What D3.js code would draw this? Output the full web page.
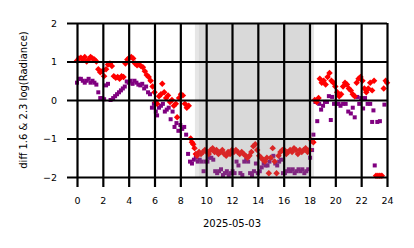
<!DOCTYPE html>
<html>
<head>
<meta charset="utf-8">
<script src="https://cdn.jsdelivr.net/npm/d3@7"></script>
<style>
body { margin: 0; background: #fff; }
svg text { font-family: "DejaVu Sans", sans-serif; fill: #000; }
</style>
</head>
<body>
<div id="chart"></div>
<script>
// diff 1.6 (red) hours and values
var redHours = [0.0,0.15,0.3,0.45,0.6,0.75,0.9,1.05,1.2,1.35,1.5,1.65,1.8,1.95,2.1,2.25,2.4,2.55,2.7,2.85,
	3.0,3.15,3.3,3.45,3.6,3.75,3.9,4.05,4.2,4.35,4.5,4.65,4.8,4.95,5.1,5.25,5.4,5.55,5.7,5.85,
	6.0,6.1,6.2,6.35,6.5,6.6,6.75,6.9,7.05,7.2,7.35,7.5,7.65,7.75,7.9,8.05,8.2,8.35,8.5,8.65,
	8.8,8.9,9.0,9.1,9.2,9.3,9.45,9.6,9.75,9.9,10.05,10.2,10.35,10.5,10.65,10.8,10.95,11.1,11.25,11.4,
	11.55,11.7,11.85,12.0,12.15,12.3,12.45,12.6,12.75,12.9,13.05,13.2,13.35,13.5,13.65,13.8,13.95,14.1,14.25,14.4,
	14.55,14.7,14.85,15.0,15.15,15.3,15.45,15.6,15.75,15.9,16.05,16.2,16.35,16.5,16.65,16.8,16.95,17.1,17.25,17.4,
	17.55,17.7,17.85,18.0,18.15,18.3,18.4,18.55,18.7,18.8,18.95,19.1,19.25,19.4,19.55,19.7,19.85,20.0,20.15,20.3,
	20.45,20.6,20.75,20.9,21.05,21.2,21.35,21.5,21.65,21.8,21.95,22.1,22.25,22.4,22.55,22.7,22.85,23.0,23.15,23.3,
	23.45,23.6,23.75,23.9,24.0];
var redValues = [1.02,1.08,1.1,1.05,1.12,1.0,1.05,1.12,1.08,1.05,1.0,0.8,0.72,0.75,0.62,0.8,0.92,0.95,0.88,0.62,
	0.58,0.6,0.55,0.62,0.6,0.95,1.05,1.1,1.12,1.08,0.95,0.9,0.92,0.88,0.85,0.75,0.65,0.6,0.5,0.35,
	0.2,-0.05,-0.1,0.1,0.15,0.42,0.2,0.05,0.12,-0.05,0.0,-0.15,-0.1,-0.45,0.05,0.15,0.12,-0.1,-0.2,-0.15,
	-1.0,-1.1,-1.15,-1.25,-1.4,-1.45,-1.35,-1.4,-1.35,-1.3,-1.35,-1.4,-1.3,-1.25,-1.35,-1.3,-1.4,-1.35,-1.3,-1.4,
	-1.45,-1.35,-1.4,-1.3,-1.35,-1.3,-1.35,-1.4,-1.35,-1.4,-1.45,-1.5,-1.45,-1.35,-1.2,-1.15,-1.3,-1.45,-1.5,-1.55,
	-1.6,-1.5,-1.9,-1.5,-1.25,-1.6,-1.9,-1.45,-1.35,-1.3,-1.3,-1.4,-1.35,-1.3,-1.35,-1.25,-1.3,-1.4,-1.3,-1.35,
	-1.3,-1.25,-1.35,-1.3,-1.05,-1.1,0.0,-0.05,0.05,0.55,0.45,0.5,0.4,0.6,0.7,0.5,0.45,0.35,0.2,0.1,
	0.15,0.35,0.45,0.4,0.3,0.25,0.15,0.1,0.45,0.55,0.6,0.5,0.3,0.2,0.3,0.45,0.25,0.5,-1.97,-1.97,
	-1.97,-1.97,0.3,0.5,0.45];

// diff 2.3 (purple) hours and values
var purpleHours = [0.0,0.15,0.3,0.45,0.6,0.75,0.9,1.05,1.2,1.35,1.5,1.65,1.8,1.95,2.1,2.25,2.4,2.6,2.8,2.95,
	3.1,3.25,3.4,3.55,3.7,3.85,4.0,4.15,4.3,4.45,4.6,4.75,4.9,5.05,5.2,5.35,5.5,5.65,5.8,5.95,
	6.1,6.2,6.35,6.5,6.65,6.8,6.95,7.1,7.25,7.4,7.55,7.7,7.85,8.0,8.15,8.3,8.45,8.6,8.75,8.9,
	9.05,9.2,9.35,9.5,9.65,9.8,9.95,10.1,10.25,10.4,10.55,10.7,10.85,11.0,11.15,11.3,11.45,11.6,11.75,11.9,
	12.05,12.2,12.35,12.5,12.65,12.8,12.95,13.1,13.25,13.4,13.55,13.7,13.85,14.0,14.15,14.3,14.45,14.6,14.75,14.9,
	15.05,15.2,15.35,15.5,15.65,15.8,15.95,16.1,16.25,16.4,16.55,16.7,16.85,17.0,17.15,17.3,17.45,17.6,17.75,17.9,
	18.05,18.2,18.3,18.45,18.6,18.75,18.9,19.05,19.2,19.35,19.5,19.65,19.75,19.9,20.1,20.25,20.4,20.6,20.8,21.0,
	21.2,21.35,21.5,21.7,21.85,22.0,22.15,22.3,22.5,22.7,22.85,22.95,23.05,23.25,23.45,23.55,23.8];
var purpleValues = [0.45,0.55,0.55,0.5,0.45,0.5,0.55,0.45,0.5,0.45,0.4,0.2,0.05,0.05,0.02,0.38,0.42,0.0,0.05,0.1,
	0.15,0.2,0.25,0.3,0.35,0.48,0.45,0.5,0.42,0.5,0.45,0.4,0.38,0.42,0.3,0.35,0.2,0.15,-0.2,-0.1,
	-0.3,-0.4,-0.2,-0.15,-0.1,-0.3,-0.25,-0.2,-0.5,-0.3,-0.7,-0.6,-0.8,-0.65,-0.75,-0.7,-0.9,-1.4,-1.6,-1.65,
	-1.55,-1.5,-1.6,-1.55,-1.6,-1.85,-1.6,-1.6,-1.5,-1.5,-1.55,-1.85,-1.9,-1.85,-1.8,-1.95,-1.9,-1.85,-1.95,-1.9,
	-1.85,-1.9,-1.6,-1.7,-1.9,-1.95,-1.6,-1.55,-1.6,-1.9,-1.95,-1.85,-1.65,-1.9,-1.85,-1.75,-1.65,-1.7,-1.7,-1.6,
	-1.5,-1.45,-1.65,-1.7,-1.6,-1.55,-1.9,-1.9,-1.85,-1.8,-1.85,-1.8,-1.9,-1.85,-1.8,-1.85,-1.8,-1.9,-1.85,-1.8,
	-1.5,-1.3,-0.9,-0.05,-0.55,-0.1,-0.25,-0.15,-0.05,-0.05,0.1,-0.52,0.08,-0.1,-0.1,-0.1,-0.15,-0.1,-0.1,-0.3,
	-0.35,-0.2,-0.45,0.08,-0.1,0.05,-0.22,0.05,-0.1,-0.1,-0.57,-0.27,-1.7,-0.57,-0.55,-1.97,-0.12];

// shaded night spans (outer twilight, inner dark)
var spanStarts = [9.13, 9.44];
var spanEnds = [18.35, 18.1];

var xTicks = [0,2,4,6,8,10,12,14,16,18,20,22,24];
var yTicks = [-2,-1,0,1,2];

var margin = {top:23, right:27, bottom:71, left:77},
width = 414 - margin.left - margin.right,
height = 248 - margin.top - margin.bottom;

var x = d3.scaleLinear().domain([0, 24]).range([0, width]);
var y = d3.scaleLinear().domain([-2, 2]).range([height, 0]);

var svg = d3.select("#chart").append("svg")
	.attr("width", 414)
	.attr("height", 248);
var g = svg.append("g").attr("transform", "translate(" + margin.left + "," + margin.top + ")");

var redPts = redHours.map(function(h, i){ return {h:h, v:redValues[i]}; });
var purplePts = purpleHours.map(function(h, i){ return {h:h, v:purpleValues[i]}; });

// points first, shading and grid go on top
g.selectAll(".sq")
	.data(purplePts)
  .enter().append("rect")
	.attr("class", "sq")
	.attr("x", function(d){ return x(d.h) - 2; })
	.attr("y", function(d){ return y(d.v) - 2; })
	.attr("width", 4)
	.attr("height", 4)
	.attr("fill", "#800080");

var diamond = d3.symbol().type(d3.symbolSquare).size(21);
g.selectAll(".dm")
	.data(redPts)
  .enter().append("path")
	.attr("class", "dm")
	.attr("d", diamond)
	.attr("transform", function(d){ return "translate(" + x(d.h) + "," + y(d.v) + ") rotate(45)"; })
	.attr("fill", "#ff0000");

var alphas = [0.2, 0.125];
g.selectAll(".night")
	.data(spanStarts)
  .enter().append("rect")
	.attr("class", "night")
	.attr("x", function(d){ return x(d); })
	.attr("width", function(d, i){ return x(spanEnds[i]) - x(d); })
	.attr("y", 0)
	.attr("height", height)
	.attr("fill", "#808080")
	.attr("fill-opacity", function(d, i){ return alphas[i]; });

// axes: tick lines stretched into full grid lines
var xAxis = d3.axisBottom(x).tickValues(xTicks).tickSize(10).tickPadding(10);
var yAxis = d3.axisLeft(y).tickValues(yTicks).tickSize(10).tickPadding(10)
	.tickFormat(function(d){ return d < 0 ? "\u2212" + Math.abs(d) : d; });

var gx = g.append("g")
	.attr("transform", "translate(0," + height + ")")
	.call(xAxis);
gx.selectAll("line").attr("y1", -height).attr("stroke", "#000").attr("stroke-width", 2.2);

var gy = g.append("g").call(yAxis);
gy.selectAll("line").attr("x1", width).attr("stroke", "#000").attr("stroke-width", 2.2);

svg.selectAll(".domain").remove();
svg.selectAll(".tick text").style("font-size", "9.5px").style("font-family", "DejaVu Sans");

g.append("text")
	.attr("x", width / 2)
	.attr("y", height + 50)
	.attr("text-anchor", "middle")
	.style("font-size", "10px")
	.text("2025-05-03");

svg.append("text")
	.attr("transform", "translate(27," + (margin.top + height / 2) + ") rotate(-90)")
	.attr("text-anchor", "middle")
	.style("font-size", "10px")
	.text("diff 1.6 & 2.3  log(Radiance)");
</script>
</body>
</html>
